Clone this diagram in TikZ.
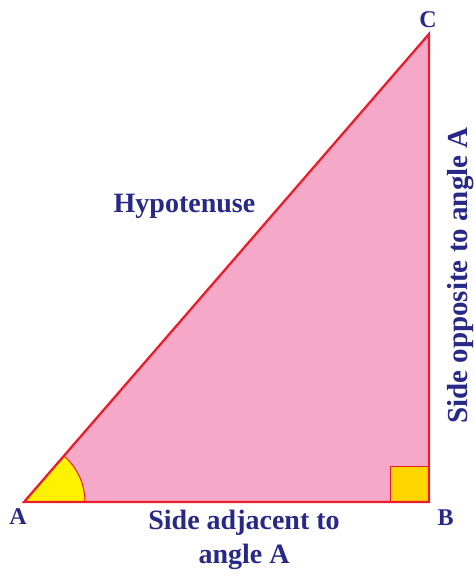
\documentclass[tikz,border=0pt]{standalone}
\usepackage{fontspec}
\setmainfont{Liberation Serif}
\definecolor{pinkfill}{RGB}{245,168,200}
\definecolor{redline}{RGB}{232,30,45}
\definecolor{txtblue}{RGB}{40,40,135}
\definecolor{angyellow}{RGB}{255,242,0}
\definecolor{sqyellow}{RGB}{255,214,0}
\tikzset{lbl/.style={text=txtblue,font=\bfseries\fontsize{28}{34}\selectfont,inner sep=0pt,anchor=base},
  vlbl/.style={text=txtblue,font=\bfseries\fontsize{24}{28}\selectfont,inner sep=0pt,anchor=base}}
\begin{document}
\begin{tikzpicture}[x=1pt,y=-1pt]
\useasboundingbox (0,0) rectangle (474,576);
\coordinate (A) at (24,502);
\coordinate (B) at (429,502);
\coordinate (C) at (429,34);
\fill[pinkfill] (A) -- (B) -- (C) -- cycle;
\fill[angyellow,draw=redline,line width=1pt] (A) -- ++(61,0) arc[start angle=0,end angle=-49.1,radius=61] -- cycle;
\fill[sqyellow,draw=redline,line width=1pt] (B) rectangle ++(-39,-36);
\draw[redline,line width=2.3pt,line join=miter] (A) -- (B) -- (C) -- cycle;
\node[vlbl] (la) at (18,524) {A};
\node[vlbl] (lb) at (445.5,525) {B};
\node[vlbl] (lc) at (428,27) {C};
\node[lbl] (hyp) at (184.5,212) {Hypotenuse};
\node[lbl] (adj1) at (244,529) {Side adjacent to};
\node[lbl] (adj2) at (244,563) {angle A};
\node[lbl,font=\bfseries\fontsize{29}{34}\selectfont,rotate=90] (opp) at (467,275.5) {Side opposite to angle A};
\end{tikzpicture}
\end{document}
